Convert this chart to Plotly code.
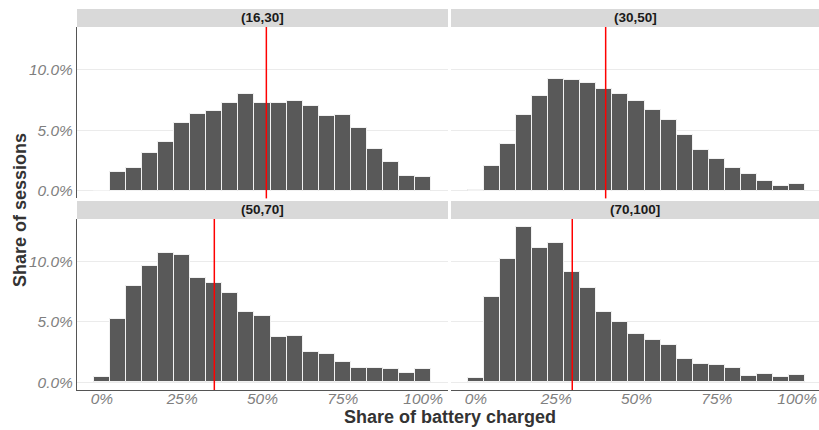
import plotly.graph_objects as go

# ---- data ----
bins = [0, 5, 10, 15, 20, 25, 30, 35, 40, 45, 50, 55, 60, 65, 70, 75, 80, 85, 90, 95, 100]
panel_labels = ["(16,30]", "(30,50]", "(50,70]", "(70,100]"]
share_16_30 = [0.0, 1.52, 1.88, 3.12, 4.03, 5.61, 6.38, 6.60, 7.24, 7.96, 7.27,
               7.27, 7.40, 6.99, 6.19, 6.24, 5.17, 3.48, 2.35, 1.24, 1.13]
share_30_50 = [0.03, 2.04, 3.87, 6.24, 7.85, 9.23, 9.17, 8.92, 8.43, 7.96, 7.40,
               6.69, 5.83, 4.61, 3.34, 2.60, 1.88, 1.38, 0.77, 0.36, 0.58]
share_50_70 = [0.41, 5.22, 8.01, 9.64, 10.72, 10.58, 8.67, 8.20, 7.38, 5.83, 5.47,
               3.76, 3.84, 2.54, 2.38, 1.69, 1.19, 1.19, 1.08, 0.80, 1.13]
share_70_100 = [0.33, 7.07, 10.25, 12.90, 11.10, 11.55, 9.17, 7.79, 5.80, 5.03, 4.01,
                3.51, 3.07, 1.96, 1.52, 1.44, 1.19, 0.55, 0.69, 0.41, 0.61]
mean_lines = [51.2, 40.4, 35.0, 30.0]
x_tickvals = [0, 25, 50, 75, 100]
x_ticktext = ["0%", "25%", "50%", "75%", "100%"]
y_tickvals = [0, 5, 10]
y_ticktext = ["0.0%", "5.0%", "10.0%"]

series = [share_16_30, share_30_50, share_50_70, share_70_100]

# ---- layout geometry ----
W, H = 819, 430
ml, mr, mt, mb = 77, 0, 9, 40
pw = W - ml - mr
ph = H - mt - mb

def px_x(x):
    return (x - ml) / pw

def px_y(y):
    return (H - mb - y) / ph

x_dom = [[0.0, px_x(448)], [px_x(451), 1.0]]
y_dom_top = [px_y(198.4), px_y(27)]
y_dom_bot = [0.0, px_y(219)]
y_doms = [y_dom_top, y_dom_top, y_dom_bot, y_dom_bot]
strip_top = [[px_y(27), 1.0], [px_y(27), 1.0], [px_y(219), px_y(201)], [px_y(219), px_y(201)]]

ymax = max(max(s) for s in series)
y_range = [-0.05 * ymax, 1.05 * ymax]
x_range_left = [-7.75, 107.75]
x_range_right = [-7.75, -7.75 + 115.5 * (x_dom[1][1] - x_dom[1][0]) / (x_dom[0][1] - x_dom[0][0])]

fig = go.Figure()
tick_font = dict(family="Liberation Sans, Arial, sans-serif", size=15.5, color="#7F7F7F", style="italic")

shapes = []
annotations = []
for i, (vals, lab, m) in enumerate(zip(series, panel_labels, mean_lines)):
    n = i + 1
    xa = "x" if n == 1 else f"x{n}"
    ya = "y" if n == 1 else f"y{n}"
    fig.add_trace(go.Bar(
        x=bins, y=vals, width=5, xaxis=xa, yaxis=ya,
        marker=dict(color="#595959", line=dict(color="#F2F2F2", width=1)),
        showlegend=False, hoverinfo="skip",
    ))
    col = i % 2
    row = i // 2
    xr = x_range_left if col == 0 else x_range_right
    xkey = "xaxis" if n == 1 else f"xaxis{n}"
    ykey = "yaxis" if n == 1 else f"yaxis{n}"
    fig.update_layout(**{
        xkey: dict(domain=x_dom[col], range=xr, anchor=ya,
                   tickvals=x_tickvals, ticktext=x_ticktext,
                   showticklabels=(row == 1), showgrid=False, zeroline=False,
                   showline=(row == 1), linecolor="#555555", linewidth=1,
                   tickfont=tick_font, ticks="", ticklabelstandoff=-6),
        ykey: dict(domain=y_doms[i], range=y_range, anchor=xa,
                   tickvals=y_tickvals, ticktext=y_ticktext,
                   showticklabels=(col == 0), showgrid=True, gridcolor="#EBEBEB",
                   gridwidth=1, zeroline=False,
                   showline=(col == 0), linecolor="#555555", linewidth=1,
                   tickfont=tick_font, ticks="", ticklabelstandoff=0),
    })
    # red mean line
    shapes.append(dict(type="line", xref=xa, yref=f"{ya} domain", x0=m, x1=m, y0=0, y1=1,
                       line=dict(color="#FF0000", width=1.5), layer="above"))
    # strip
    shapes.append(dict(type="rect", xref="paper", yref="paper",
                       x0=x_dom[col][0], x1=x_dom[col][1],
                       y0=strip_top[i][0], y1=strip_top[i][1],
                       fillcolor="#D9D9D9", line=dict(width=0), layer="below"))
    annotations.append(dict(text=f"<b>{lab}</b>", xref="paper", yref="paper",
                            x=(x_dom[col][0] + x_dom[col][1]) / 2,
                            y=(strip_top[i][0] + strip_top[i][1]) / 2,
                            xanchor="center", yanchor="middle", showarrow=False,
                            font=dict(family="Liberation Sans, Arial, sans-serif", size=13.5, color="#1A1A1A")))

annotations.append(dict(text="<b>Share of battery charged</b>", xref="paper", yref="paper",
                        x=px_x(450), y=px_y(417), xanchor="center", yanchor="middle",
                        showarrow=False,
                        font=dict(family="Liberation Sans, Arial, sans-serif", size=18, color="#333333")))
annotations.append(dict(text="<b>Share of sessions</b>", xref="paper", yref="paper",
                        x=px_x(20), y=px_y(210), xanchor="center", yanchor="middle",
                        textangle=-90, showarrow=False,
                        font=dict(family="Liberation Sans, Arial, sans-serif", size=18, color="#333333")))

fig.update_layout(
    width=W, height=H,
    margin=dict(l=ml, r=mr, t=mt, b=mb, pad=0),
    paper_bgcolor="white", plot_bgcolor="white",
    bargap=0, shapes=shapes, annotations=annotations,
    showlegend=False,
)

fig.write_html("out.html", config={"displayModeBar": False},
               post_script="document.body.style.margin='0';document.body.style.overflow='hidden';")
